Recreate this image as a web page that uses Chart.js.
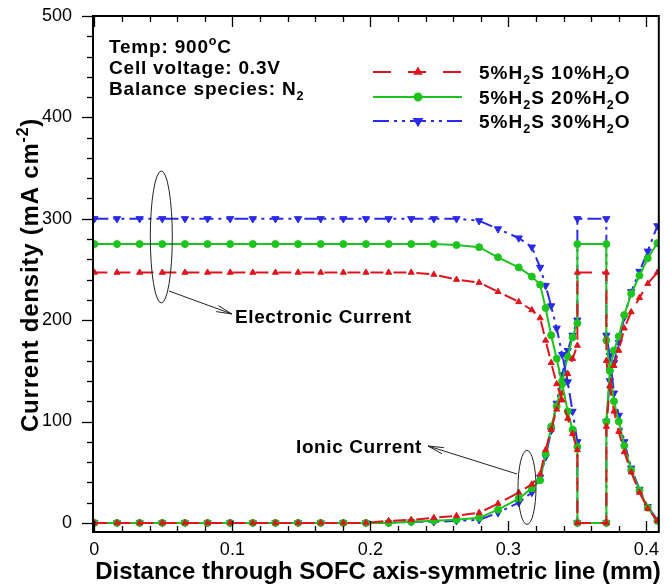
<!DOCTYPE html>
<html>
<head>
<meta charset="utf-8">
<script src="https://cdn.jsdelivr.net/npm/chart.js@4/dist/chart.umd.min.js"></script>
<style>
  html, body { margin: 0; padding: 0; background: #ffffff; }
  #wrap { width: 664px; height: 584px; }
</style>
</head>
<body>
<div id="wrap"><canvas id="c" width="664" height="584"></canvas></div>
<script>
// ---------------- DATA ----------------
const xGrid = [0, 0.0164, 0.0328, 0.0492, 0.0656, 0.082, 0.0984, 0.1148, 0.1312, 0.1476,
  0.164, 0.1804, 0.1968, 0.2132, 0.2296, 0.246, 0.2624, 0.2788, 0.2925, 0.3075,
  0.317, 0.323, 0.327, 0.331, 0.335, 0.339, 0.343, 0.3465, 0.35, 0.35,
  0.371, 0.371, 0.3735, 0.3765, 0.38, 0.384, 0.389, 0.395, 0.401, 0.408];

// Electronic current (mA cm^-2)
const elec10 = [247, 247, 247, 247, 247, 247, 247, 247, 247, 247,
  247, 247, 247, 247, 247, 245, 240, 237, 228, 218,
  210, 202, 180, 158, 137, 121, 103, 88, 72, 0,
  0, 95, 135, 155, 170, 192, 208, 222, 236, 247];
const elec20 = [275, 275, 275, 275, 275, 275, 275, 275, 275, 275,
  275, 275, 275, 275, 275, 275, 274, 272, 262, 252,
  243, 235, 212, 185, 162, 137, 110, 92, 75, 0,
  0, 100, 150, 170, 184, 205, 226, 244, 261, 276];
const elec30 = [300, 300, 300, 300, 300, 300, 300, 300, 300, 300,
  300, 300, 300, 300, 300, 300, 300, 298, 290, 281,
  272, 252, 234, 214, 192, 166, 139, 110, 80, 0,
  0, 100, 140, 158, 178, 203, 228, 248, 268, 293];

// Ionic current (mA cm^-2)
const ion10 = [0, 0, 0, 0, 0, 0, 0, 0, 0, 0,
  0, 0, 0, 2, 3, 5, 7, 10, 19, 30,
  38, 48, 72, 92, 112, 128, 147, 162, 175, 247,
  247, 160, 135, 110, 90, 70, 50, 30, 14, 2];
const ion20 = [0, 0, 0, 0, 0, 0, 0, 0, 0, 0,
  0, 0, 0, 0, 1, 2, 3, 5, 13, 24,
  34, 42, 68, 95, 115, 140, 164, 183, 197, 275,
  275, 180, 150, 120, 100, 76, 52, 32, 15, 2];
const ion30 = [0, 0, 0, 0, 0, 0, 0, 0, 0, 0,
  0, 0, 0, 0, 1, 1, 2, 3, 10, 20,
  30, 45, 65, 91, 118, 146, 170, 185, 200, 300,
  300, 185, 165, 128, 106, 80, 54, 33, 16, 3];

const seriesNames = ['5%H2S 10%H2O', '5%H2S 20%H2O', '5%H2S 30%H2O'];
const xTickValues = [0, 0.02, 0.04, 0.06, 0.08, 0.1, 0.12, 0.14, 0.16, 0.18, 0.2,
  0.22, 0.24, 0.26, 0.28, 0.3, 0.32, 0.34, 0.36, 0.38, 0.4];
const xTickLabels = ['0', '', '', '', '', '0.1', '', '', '', '', '0.2',
  '', '', '', '', '0.3', '', '', '', '', '0.4'];
const yTickValues = [0, 20, 40, 60, 80, 100, 120, 140, 160, 180, 200, 220, 240, 260, 280,
  300, 320, 340, 360, 380, 400, 420, 440, 460, 480, 500];
const yTickLabels = ['0', '', '', '', '', '100', '', '', '', '', '200', '', '', '', '',
  '300', '', '', '', '', '400', '', '', '', '', '500'];

// ---------------- STYLES ----------------
const RED = '#e0141c', GREEN = '#1ec41e', BLUE = '#2a2ae8';
const FONT = '"Liberation Sans", Arial, Helvetica, sans-serif';
const styles = [
  { color: RED, dash: [13, 10], legendDash: [18, 17], point: 'triangle', radius: 3.5, rot: 0 },
  { color: GREEN, dash: [], legendDash: [], point: 'circle', radius: 3.5, rot: 0 },
  { color: BLUE, dash: [14, 5, 3, 5, 3, 5], legendDash: [16, 5, 3, 5, 3, 5], point: 'triangle', radius: 4.2, rot: 180 }
];

function pts(ys) { return xGrid.map((x, i) => ({ x: x, y: ys[i] })); }
function ds(label, ys, s) {
  return {
    label: label, data: pts(ys),
    borderColor: s.color, backgroundColor: s.color, borderWidth: 2, borderDash: s.dash,
    pointStyle: s.point, pointRadius: s.radius, pointRotation: s.rot,
    pointBackgroundColor: s.color, pointBorderColor: s.color, pointBorderWidth: 1,
    tension: 0, fill: false
  };
}

const datasets = [
  ds(seriesNames[0], elec10, styles[0]),
  ds(seriesNames[1], elec20, styles[1]),
  ds(seriesNames[2], elec30, styles[2]),
  ds(seriesNames[0] + ' ionic', ion10, styles[0]),
  ds(seriesNames[1] + ' ionic', ion20, styles[1]),
  ds(seriesNames[2] + ' ionic', ion30, styles[2])
];

// rich text helper: parts [{t, sub, sup}]
function setFont(ctx, p, size, weight, spacing) {
  const s = (p.sub || p.sup) ? size * 0.66 : size;
  ctx.font = weight + ' ' + s + 'px ' + FONT;
  ctx.letterSpacing = spacing + 'px';
}
function richWidth(ctx, parts, size, weight, spacing) {
  let w = 0;
  parts.forEach(p => { setFont(ctx, p, size, weight, spacing); w += ctx.measureText(p.t).width; });
  return w;
}
function drawRich(ctx, parts, x, y, size, weight, spacing) {
  let cx = x;
  ctx.textBaseline = 'alphabetic';
  ctx.textAlign = 'left';
  parts.forEach(p => {
    setFont(ctx, p, size, weight, spacing);
    let dy = 0;
    if (p.sub) dy = size * 0.28;
    if (p.sup) dy = -size * 0.42;
    ctx.fillText(p.t, cx, y + dy);
    cx += ctx.measureText(p.t).width;
  });
  ctx.letterSpacing = '0px';
  return cx;
}
function legendParts(name) {
  const m = name.match(/^5%H2S (\d+)%H2O$/);
  return [{ t: '5%H' }, { t: '2', sub: true }, { t: 'S ' + m[1] + '%H' }, { t: '2', sub: true }, { t: 'O' }];
}

const decorPlugin = {
  id: 'decor',
  afterDraw(chart) {
    const ctx = chart.ctx;
    const a = chart.chartArea;
    const xs = chart.scales.x, ys = chart.scales.y;
    ctx.save();
    ctx.strokeStyle = '#000';
    ctx.fillStyle = '#000';
    ctx.setLineDash([]);
    // frame
    ctx.lineWidth = 2;
    ctx.strokeRect(a.left, a.top, a.right - a.left, a.bottom - a.top);
    // ticks
    ctx.lineWidth = 1.3;
    yTickValues.forEach((v, i) => {
      const py = Math.round(ys.getPixelForValue(v)) + 0.5;
      const len = yTickLabels[i] !== '' ? 11 : 6;
      ctx.beginPath(); ctx.moveTo(a.left - len, py); ctx.lineTo(a.left, py); ctx.stroke();
    });
    xTickValues.forEach((v, i) => {
      const px = Math.round(xs.getPixelForValue(v)) + 0.5;
      const len = xTickLabels[i] !== '' ? 11 : 6;
      ctx.beginPath(); ctx.moveTo(px, a.bottom); ctx.lineTo(px, a.bottom - len); ctx.stroke();
      ctx.beginPath(); ctx.moveTo(px, a.top); ctx.lineTo(px, a.top + len); ctx.stroke();
    });

    // axis titles
    const xParts = [{ t: 'Distance through SOFC axis-symmetric line (mm)' }];
    const xw = richWidth(ctx, xParts, 24, 'bold', 0);
    drawRich(ctx, xParts, 378 - xw / 2, 579, 24, 'bold', 0);
    ctx.save();
    ctx.translate(38, 275);
    ctx.rotate(-Math.PI / 2);
    const yParts = [{ t: 'Current density (mA cm' }, { t: '-2', sup: true }, { t: ')' }];
    const yw = richWidth(ctx, yParts, 24, 'bold', 0.8);
    drawRich(ctx, yParts, -yw / 2, 0, 24, 'bold', 0.8);
    ctx.restore();

    // top-left annotation
    const fs = 19, sp = 0.8;
    drawRich(ctx, [{ t: 'Temp: 900' }, { t: 'o', sup: true }, { t: 'C' }], 109, 53, fs, 'bold', sp);
    drawRich(ctx, [{ t: 'Cell voltage: 0.3V' }], 109, 74, fs, 'bold', sp);
    drawRich(ctx, [{ t: 'Balance species: N' }, { t: '2', sub: true }], 109, 95, fs, 'bold', sp);

    // legend
    const rows = [72, 97, 121];
    [0, 1, 2].forEach(i => {
      const s = styles[i];
      const y = rows[i];
      ctx.save();
      ctx.strokeStyle = s.color;
      ctx.fillStyle = s.color;
      ctx.lineWidth = 2;
      ctx.setLineDash(s.legendDash);
      ctx.beginPath(); ctx.moveTo(373, y); ctx.lineTo(462, y); ctx.stroke();
      ctx.setLineDash([]);
      Chart.helpers.drawPoint(ctx, { pointStyle: s.point, radius: s.radius, rotation: s.rot, borderWidth: 1 }, 418, y);
      ctx.restore();
      ctx.fillStyle = '#000';
      drawRich(ctx, legendParts(seriesNames[i]), 479, y + 7, 19, 'bold', 1);
    });

    // ellipses + arrows
    ctx.strokeStyle = '#222';
    ctx.lineWidth = 1;
    ctx.beginPath();
    ctx.ellipse(xs.getPixelForValue(0.0485), ys.getPixelForValue(282), 11, 66, 0, 0, Math.PI * 2);
    ctx.stroke();
    ctx.beginPath();
    ctx.ellipse(xs.getPixelForValue(0.3135), ys.getPixelForValue(35), 9, 37, 0, 0, Math.PI * 2);
    ctx.stroke();

    function arrow(x1, y1, x2, y2) {
      ctx.beginPath(); ctx.moveTo(x1, y1); ctx.lineTo(x2, y2); ctx.stroke();
      const ang = Math.atan2(y2 - y1, x2 - x1);
      const L = 16, w = 0.2;
      ctx.beginPath();
      ctx.moveTo(x2 - L * Math.cos(ang - w), y2 - L * Math.sin(ang - w));
      ctx.lineTo(x2, y2);
      ctx.lineTo(x2 - L * Math.cos(ang + w), y2 - L * Math.sin(ang + w));
      ctx.stroke();
    }
    arrow(169, 291, 232, 314);
    arrow(517, 474, 428, 446);

    ctx.fillStyle = '#000';
    drawRich(ctx, [{ t: 'Electronic Current' }], 235, 323, 19, 'bold', 0.6);
    drawRich(ctx, [{ t: 'Ionic Current' }], 296, 453, 19, 'bold', 0.6);
    ctx.restore();
  }
};

new Chart(document.getElementById('c'), {
  type: 'line',
  data: { datasets: datasets },
  options: {
    responsive: false,
    animation: false,
    devicePixelRatio: 1,
    layout: { padding: { left: 0, right: 3, top: 16, bottom: 0 } },
    plugins: { legend: { display: false }, tooltip: { enabled: false } },
    scales: {
      x: {
        type: 'linear', min: -0.001, max: 0.409,
        afterBuildTicks: s => { s.ticks = xTickValues.map(v => ({ value: v })); },
        afterFit: s => { s.height = 52; s.paddingLeft = 0; s.paddingRight = 0; },
        grid: { display: false, drawTicks: false },
        border: { display: false },
        ticks: {
          autoSkip: false, maxRotation: 0, padding: 7, color: '#000',
          font: { family: FONT, size: 18 },
          callback: (v, i) => xTickLabels[i]
        }
      },
      y: {
        type: 'linear', min: -9, max: 500,
        afterBuildTicks: s => { s.ticks = yTickValues.map(v => ({ value: v })); },
        afterFit: s => { s.width = 93; s.paddingTop = 0; s.paddingBottom = 0; },
        grid: { display: false, drawTicks: false },
        border: { display: false },
        ticks: {
          autoSkip: false, padding: 21, color: '#000',
          font: { family: FONT, size: 18 },
          callback: (v, i) => yTickLabels[i]
        }
      }
    }
  },
  plugins: [decorPlugin]
});
</script>
</body>
</html>
